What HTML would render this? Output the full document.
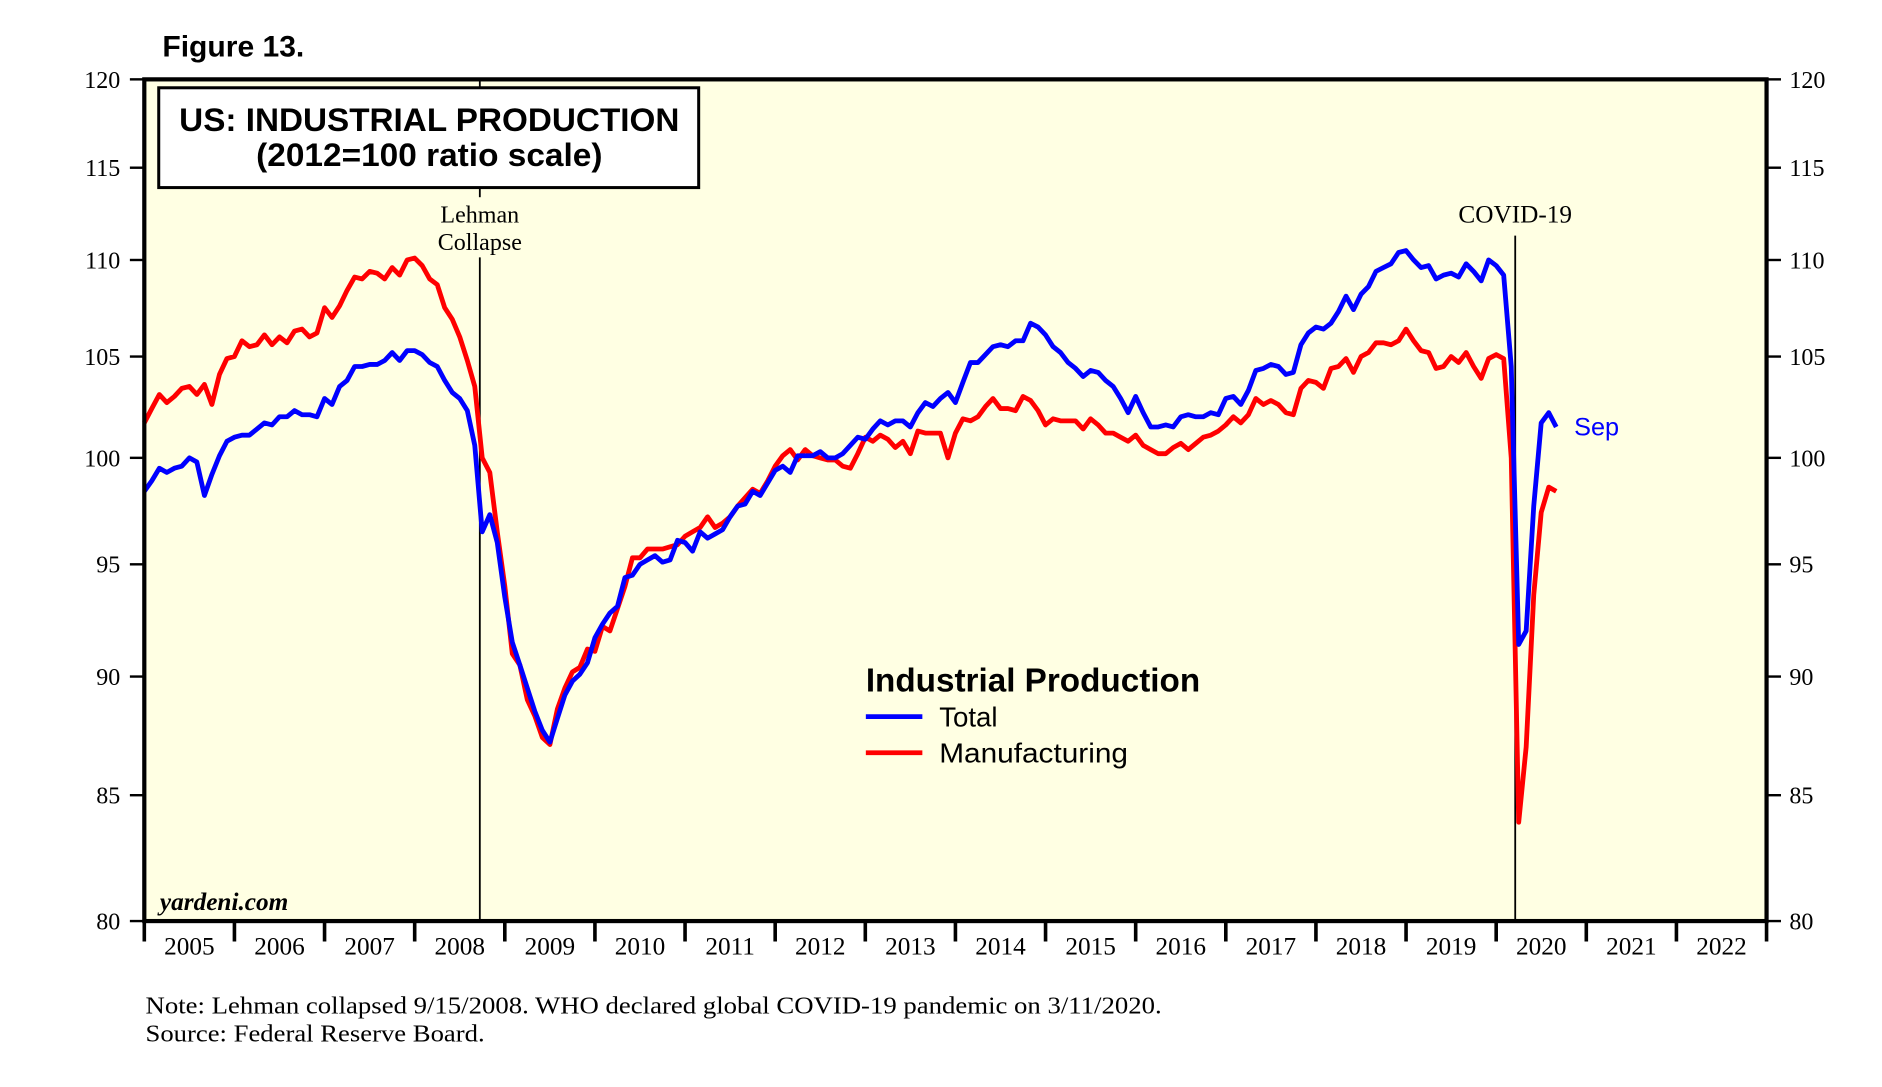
<!DOCTYPE html>
<html><head><meta charset="utf-8"><style>
html,body{margin:0;padding:0;background:#fff;}
svg{display:block;}
.serif{font-family:"Liberation Serif",serif;}
.sans{font-family:"Liberation Sans",sans-serif;}
</style></head><body>
<svg id="chart" width="1882" height="1087" viewBox="0 0 1565 904" preserveAspectRatio="none">
<rect x="120" y="66" width="1349" height="700" fill="#ffffe3"/>
<g id="axes"></g>
<line x1="399" y1="66" x2="399" y2="72" stroke="#000" stroke-width="1.5"/>
<line x1="399" y1="156" x2="399" y2="164" stroke="#000" stroke-width="1.5"/>
<line x1="399" y1="214" x2="399" y2="766" stroke="#000" stroke-width="1.5"/>
<line x1="1260" y1="196" x2="1260" y2="766" stroke="#000" stroke-width="1.5"/>
<g id="series"></g>
<rect x="120" y="66" width="1349" height="700" fill="none" stroke="#000" stroke-width="3.5"/>
<text x="135" y="47" class="sans" font-size="25" font-weight="bold">Figure 13.</text>
<rect x="132" y="73" width="449" height="83" fill="#fff" stroke="#000" stroke-width="2.5"/>
<text x="149" y="109" class="sans" font-size="27" font-weight="bold" textLength="416" lengthAdjust="spacingAndGlyphs">US: INDUSTRIAL PRODUCTION</text>
<text x="213" y="138" class="sans" font-size="27" font-weight="bold" textLength="288" lengthAdjust="spacingAndGlyphs">(2012=100 ratio scale)</text>
<text x="399" y="185" text-anchor="middle" class="serif" font-size="20">Lehman</text>
<text x="399" y="208" text-anchor="middle" class="serif" font-size="20">Collapse</text>
<text x="1260" y="185" text-anchor="middle" class="serif" font-size="21">COVID-19</text>
<text x="1309" y="362" class="sans" font-size="21" fill="#0000ff">Sep</text>
<text x="133" y="757" class="serif" font-size="21" font-weight="bold" font-style="italic">yardeni.com</text>
<g>
<text x="720" y="575" class="sans" font-size="27.5" font-weight="bold" textLength="278" lengthAdjust="spacingAndGlyphs">Industrial Production</text>
<line x1="720" y1="596" x2="767" y2="596" stroke="#0000ff" stroke-width="4"/>
<text x="781" y="604" class="sans" font-size="23">Total</text>
<line x1="720" y1="626" x2="767" y2="626" stroke="#ff0000" stroke-width="4"/>
<text x="781" y="634" class="sans" font-size="23" textLength="157" lengthAdjust="spacingAndGlyphs">Manufacturing</text>
</g>
<text x="121" y="843" class="serif" font-size="20" textLength="845" lengthAdjust="spacingAndGlyphs">Note: Lehman collapsed 9/15/2008. WHO declared global COVID-19 pandemic on 3/11/2020.</text>
<text x="121" y="866" class="serif" font-size="20" textLength="282" lengthAdjust="spacingAndGlyphs">Source: Federal Reserve Board.</text>
</svg>
<script>
const yTicks = [80,85,90,95,100,105,110,115,120];
const years = [2005,2006,2007,2008,2009,2010,2011,2012,2013,2014,2015,2016,2017,2018,2019,2020,2021,2022];
const startYear = 2005;
const total = [
98.4,98.9,99.5,99.3,99.5,99.6,100.0,99.8,98.2,99.2,100.1,100.8,
101.0,101.1,101.1,101.4,101.7,101.6,102.0,102.0,102.3,102.1,102.1,102.0,
102.9,102.6,103.5,103.8,104.5,104.5,104.6,104.6,104.8,105.2,104.8,105.3,
105.3,105.1,104.7,104.5,103.8,103.2,102.9,102.3,100.6,96.5,97.3,96.0,
93.5,91.5,90.5,89.5,88.5,87.7,87.2,88.2,89.2,89.8,90.1,90.6,
91.7,92.3,92.8,93.1,94.4,94.5,95.0,95.2,95.4,95.1,95.2,96.1,
96.0,95.6,96.5,96.2,96.4,96.6,97.2,97.7,97.8,98.4,98.2,98.8,
99.4,99.6,99.3,100.1,100.1,100.1,100.3,100.0,100.0,100.2,100.6,101.0,
100.9,101.4,101.8,101.6,101.8,101.8,101.5,102.2,102.7,102.5,102.9,103.2,
102.7,103.7,104.7,104.7,105.1,105.5,105.6,105.5,105.8,105.8,106.7,106.5,
106.1,105.5,105.2,104.7,104.4,104.0,104.3,104.2,103.8,103.5,102.9,102.2,
103.0,102.2,101.5,101.5,101.6,101.5,102.0,102.1,102.0,102.0,102.2,102.1,
102.9,103.0,102.6,103.3,104.3,104.4,104.6,104.5,104.1,104.2,105.6,106.2,
106.5,106.4,106.7,107.3,108.1,107.4,108.2,108.6,109.4,109.6,109.8,110.4,
110.5,110.0,109.6,109.7,109.0,109.2,109.3,109.1,109.8,109.4,108.9,110.0,
109.7,109.2,104.5,91.4,92.0,97.7,101.7,102.2,101.5];
const manufacturing = [
101.7,102.4,103.1,102.7,103.0,103.4,103.5,103.1,103.6,102.6,104.1,104.9,
105.0,105.8,105.5,105.6,106.1,105.6,106.0,105.7,106.3,106.4,106.0,106.2,
107.5,107.0,107.6,108.4,109.1,109.0,109.4,109.3,109.0,109.6,109.2,110.0,
110.1,109.7,109.0,108.7,107.5,106.9,106.0,104.8,103.5,100.0,99.3,96.5,
94.0,91.0,90.5,89.0,88.3,87.4,87.1,88.6,89.5,90.2,90.4,91.2,
91.1,92.2,92.0,93.0,94.0,95.3,95.3,95.7,95.7,95.7,95.8,95.9,
96.3,96.5,96.7,97.2,96.7,96.9,97.2,97.7,98.1,98.5,98.3,98.9,
99.6,100.1,100.4,99.9,100.4,100.1,100.0,99.9,99.9,99.6,99.5,100.2,
101.0,100.8,101.1,100.9,100.5,100.8,100.2,101.3,101.2,101.2,101.2,100.0,
101.2,101.9,101.8,102.0,102.5,102.9,102.4,102.4,102.3,103.0,102.8,102.3,
101.6,101.9,101.8,101.8,101.8,101.4,101.9,101.6,101.2,101.2,101.0,100.8,
101.1,100.6,100.4,100.2,100.2,100.5,100.7,100.4,100.7,101.0,101.1,101.3,
101.6,102.0,101.7,102.1,102.9,102.6,102.8,102.6,102.2,102.1,103.4,103.8,
103.7,103.4,104.4,104.5,104.9,104.2,105.0,105.2,105.7,105.7,105.6,105.8,
106.4,105.8,105.3,105.2,104.4,104.5,105.0,104.7,105.2,104.5,103.9,104.9,
105.1,104.9,100.0,83.9,87.0,93.6,97.4,98.6,98.4];

const NS = 'http://www.w3.org/2000/svg';
const L = 120, R = 1469, T = 66, B = 766;
function xScale(t){ return L + (t - startYear) / 18 * (R - L); }
function yScale(v){ return B - Math.log(v / 80) / Math.log(120 / 80) * (B - T); }
function mk(tag, attrs, parent){
  const e = document.createElementNS(NS, tag);
  for (const k in attrs) e.setAttribute(k, attrs[k]);
  parent.appendChild(e); return e;
}
const axes = document.getElementById('axes');
yTicks.forEach(v => {
  const y = yScale(v);
  const t1 = mk('line', {x1: L - 12, x2: L, y1: y, y2: y, stroke: '#000', 'stroke-width': 2}, axes);
  
  
  const t2 = mk('line', {x1: R, x2: R + 12, y1: y, y2: y, stroke: '#000', 'stroke-width': 2}, axes);
  
  
  const l1 = mk('text', {x: 100, y: y + 7, 'text-anchor': 'end', 'font-size': 20, class: 'serif'}, axes);
  l1.textContent = v;
  
  
  const l2 = mk('text', {x: 1488, y: y + 7, 'font-size': 20, class: 'serif'}, axes);
  l2.textContent = v;
  
  
});
for (let i = 0; i <= years.length; i++) {
  const x = xScale(startYear + i);
  const tk = mk('line', {x1: x, x2: x, y1: B, y2: B + 17, stroke: '#000', 'stroke-width': 3}, axes);
  
  
}
years.forEach(yr => {
  const t = mk('text', {x: xScale(yr + 0.5), y: 794, 'text-anchor': 'middle', 'font-size': 21, class: 'serif'}, axes);
  t.textContent = yr;
  
  
});
const series = document.getElementById('series');
function draw(arr, color, name){
  const pts = arr.map((v, i) => xScale(startYear + i / 12).toFixed(1) + ',' + yScale(v).toFixed(1)).join(' ');
  const p = mk('polyline', {points: pts, fill: 'none', stroke: color, 'stroke-width': 4, 'stroke-linejoin': 'round'}, series);
  
  
}
draw(manufacturing, '#ff0000', 'manufacturing-line');
draw(total, '#0000ff', 'total-line');
</script>
</body></html>
